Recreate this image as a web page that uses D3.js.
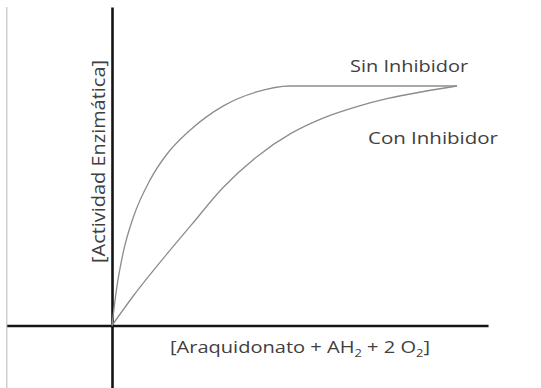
<!doctype html>
<html lang="es">
  <head>
    <meta charset="UTF-8" />
    <title>Actividad enzimática con y sin inhibidor</title>
    <style>
      body { margin: 0; background: #fff; }
      .axis path { stroke: #141414; stroke-width: 2.6px; }
      .frame { stroke: #c4c4c4; stroke-width: 1.2px; }
      .curve { fill: none; stroke: #8c8c8c; stroke-width: 1.3px; }
      .lbl { font-family: "Open Sans", sans-serif; fill: #404040; }
    </style>
  </head>
  <body>
    <div id="chart"></div>
    <script src="https://d3js.org/d3.v7.min.js"></script>
    <script>
      // substrate concentration (arbitrary units) and enzyme activity (% of max)
      const sinX = [0, 0.14, 0.33, 0.62, 1.1, 1.59, 2.26, 3.23, 4.19, 5.16, 7, 10];
      const sinY = [0, 16, 30.8, 45.3, 60.7, 71.5, 81.5, 91.7, 97.5, 100, 100, 100];
      const conX = [0, 0.6, 1.6, 2.3, 3.2, 4.2, 5.2, 6.1, 7.1, 8, 9, 10];
      const conY = [0, 12, 30, 42, 57.3, 70.5, 80.3, 86.5, 91.4, 94.8, 97.6, 100];

      const seriesNames = ['Sin Inhibidor', 'Con Inhibidor'];
      const xLabel = ['[Araquidonato + AH', '2', ' + 2 O', '2', ']'];
      const yLabel = '[Actividad Enzimática]';

      // axis extents in data units (axes run past the origin)
      const xExtent = [-3.05, 10.9];
      const yExtent = [-26.2, 133];

      const width = 541, height = 388;
      const x = d3.scaleLinear().domain([0, 10]).range([112, 457]);
      const y = d3.scaleLinear().domain([0, 100]).range([325.5, 86]);

      const svg = d3.select('#chart').append('svg')
        .attr('width', width).attr('height', height);

      // thin frame line on the left
      svg.append('line').attr('class', 'frame')
        .attr('x1', x(xExtent[0])).attr('x2', x(xExtent[0]))
        .attr('y1', y(yExtent[1])).attr('y2', y(yExtent[0]));

      // axes through the origin, no ticks
      const xAxisScale = x.copy().domain(xExtent).range(xExtent.map(x));
      const yAxisScale = y.copy().domain(yExtent).range(yExtent.map(y));

      svg.append('g').attr('class', 'axis')
        .attr('transform', `translate(0,${y(0)})`)
        .call(d3.axisBottom(xAxisScale).tickValues([]).tickSizeOuter(0));
      svg.append('g').attr('class', 'axis')
        .attr('transform', `translate(${x(0)},0)`)
        .call(d3.axisLeft(yAxisScale).tickValues([]).tickSizeOuter(0));

      const line = d3.line()
        .x((d) => x(d[0]))
        .y((d) => y(d[1]))
        .curve(d3.curveMonotoneX);

      svg.append('path').attr('class', 'curve')
        .attr('d', line(d3.zip(sinX, sinY)));
      svg.append('path').attr('class', 'curve')
        .attr('d', line(d3.zip(conX, conY)));

      // series labels
      svg.append('text').attr('class', 'lbl')
        .attr('x', x(6.9)).attr('y', y(105.7))
        .attr('font-size', 16.5)
        .attr('textLength', 118).attr('lengthAdjust', 'spacingAndGlyphs')
        .text(seriesNames[0]);
      svg.append('text').attr('class', 'lbl')
        .attr('x', x(7.42)).attr('y', y(75.8))
        .attr('font-size', 16.5)
        .attr('textLength', 130).attr('lengthAdjust', 'spacingAndGlyphs')
        .text(seriesNames[1]);

      // x axis title with subscripts
      const xt = svg.append('text').attr('class', 'lbl')
        .attr('x', 170).attr('y', 353)
        .attr('font-size', 15.5)
        .attr('textLength', 260).attr('lengthAdjust', 'spacingAndGlyphs');
      xLabel.forEach((s, i) => {
        const sub = i % 2 === 1;
        xt.append('tspan')
          .attr('font-size', sub ? 10 : 15.5)
          .attr('dy', sub ? 4 : (i > 0 ? -4 : 0))
          .text(s);
      });

      // y axis title, rotated
      svg.append('text').attr('class', 'lbl')
        .attr('transform', `translate(105,${(60 + 263) / 2}) rotate(-90)`)
        .attr('text-anchor', 'middle')
        .attr('font-size', 18.5)
        .attr('textLength', 203).attr('lengthAdjust', 'spacingAndGlyphs')
        .text(yLabel);
    </script>
  </body>
</html>
